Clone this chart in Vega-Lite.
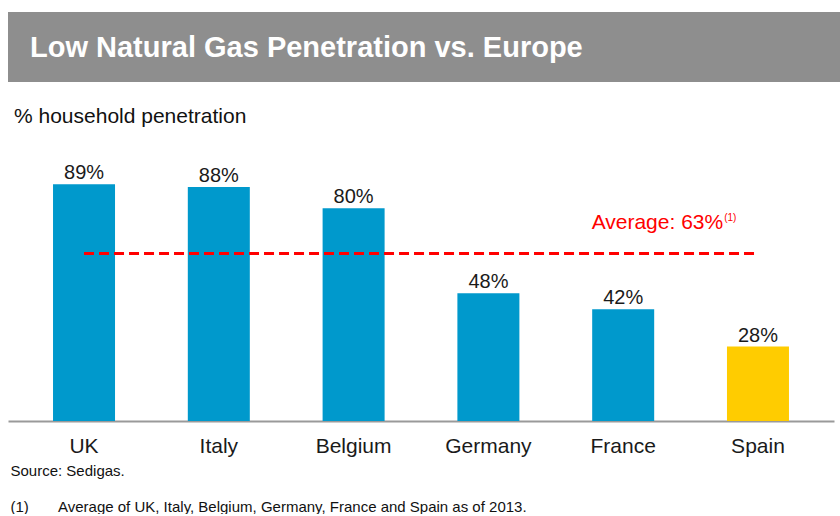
{
  "$schema": "https://vega.github.io/schema/vega-lite/v6.json",
  "padding": {"left": 8, "top": 12, "right": 0, "bottom": 0},
  "background": "white",
  "spacing": 24,
  "config": {"view": {"stroke": null}, "font": "Liberation Sans"},
  "vconcat": [
    {
      "width": 832,
      "height": 70,
      "view": {"fill": "#8e8e8e", "stroke": null},
      "data": {"values": [{"title": "Low Natural Gas Penetration vs. Europe"}]},
      "mark": {"type": "text", "align": "left", "baseline": "middle", "color": "white", "fontSize": 29, "fontWeight": "bold", "font": "Liberation Sans"},
      "encoding": {"text": {"field": "title"}, "x": {"value": 22}, "y": {"value": 36}}
    },
    {
      "width": 826,
      "height": 266,
      "title": {"text": "% household penetration", "anchor": "start", "frame": "group", "fontSize": 21, "fontWeight": "normal", "color": "#111111", "offset": 28, "dx": 6, "font": "Liberation Sans"},
      "data": {"values": [
        {"country": "UK", "pct": 0.89, "group": "Europe"},
        {"country": "Italy", "pct": 0.88, "group": "Europe"},
        {"country": "Belgium", "pct": 0.80, "group": "Europe"},
        {"country": "Germany", "pct": 0.48, "group": "Europe"},
        {"country": "France", "pct": 0.42, "group": "Europe"},
        {"country": "Spain", "pct": 0.28, "group": "Spain"}
      ]},
      "layer": [
        {
          "mark": {"type": "bar"},
          "encoding": {
            "x": {"field": "country", "type": "nominal", "sort": null,
              "scale": {"paddingInner": 0.54, "paddingOuter": 0.334},
              "axis": {"labelAngle": 0, "labelFontSize": 21, "labelColor": "#1a1a1a", "labelPadding": 14, "ticks": false, "domainColor": "#9a9a9a", "domainWidth": 2,
                "title": ["Source: Sedigas.", "(1)\u00a0\u00a0\u00a0\u00a0\u00a0\u00a0\u00a0Average of UK, Italy, Belgium, Germany,  France and Spain  as of 2013."],
                "titleFontSize": 15, "titleFontWeight": "normal", "titleColor": "#111111", "titleAlign": "left", "titleAnchor": "start", "titleX": 2, "titleY": 54, "titleBaseline": "alphabetic", "titleLineHeight": 36, "titleFont": "Liberation Sans"}},
            "y": {"field": "pct", "type": "quantitative", "scale": {"domain": [0, 1]}, "axis": null},
            "color": {"field": "group", "type": "nominal", "scale": {"domain": ["Europe", "Spain"], "range": ["#0099cc", "#ffcc00"]}, "legend": null}
          }
        },
        {
          "mark": {"type": "text", "baseline": "bottom", "dy": -1, "fontSize": 20, "color": "#1a1a1a"},
          "encoding": {
            "x": {"field": "country", "type": "nominal", "sort": null},
            "y": {"field": "pct", "type": "quantitative"},
            "text": {"field": "pct", "type": "quantitative", "format": ".0%"}
          }
        },
        {
          "data": {"values": [{"avg": 0.63, "label": "Average: 63%", "note": "(1)"}]},
          "layer": [
            {
              "mark": {"type": "rule", "color": "#ff0000", "strokeWidth": 3, "strokeDash": [10, 5]},
              "encoding": {
                "x": {"datum": "UK"},
                "x2": {"datum": "Spain"},
                "y": {"field": "avg", "type": "quantitative"}
              }
            },
            {
              "mark": {"type": "text", "align": "right", "baseline": "middle", "dx": 100, "dy": -30, "fontSize": 21, "color": "#ff0000"},
              "encoding": {
                "x": {"datum": "France"},
                "y": {"field": "avg", "type": "quantitative"},
                "text": {"field": "label"}
              }
            },
            {
              "mark": {"type": "text", "align": "left", "baseline": "middle", "dx": 101, "dy": -35, "fontSize": 10, "color": "#ff0000"},
              "encoding": {
                "x": {"datum": "France"},
                "y": {"field": "avg", "type": "quantitative"},
                "text": {"field": "note"}
              }
            }
          ]
        }
      ]
    }
  ]
}
